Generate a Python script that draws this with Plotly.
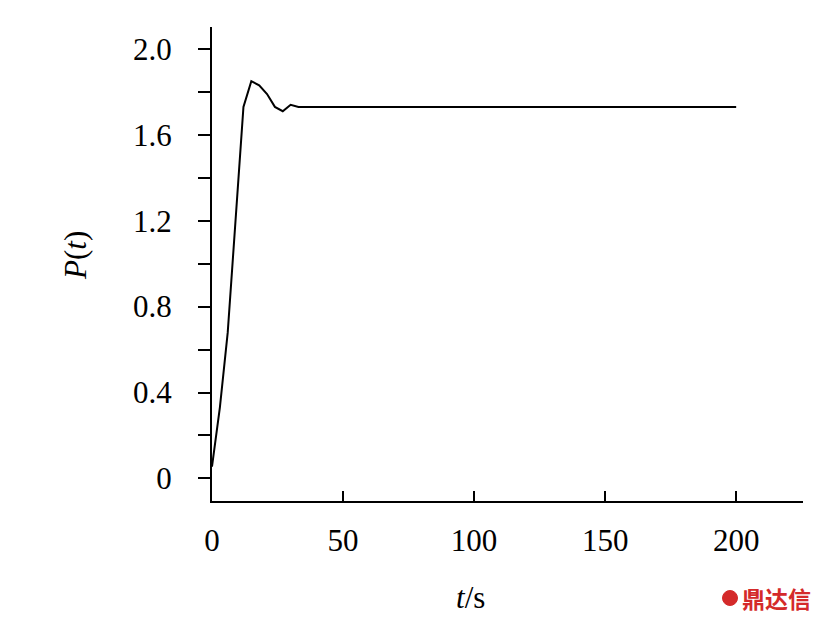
import plotly.graph_objects as go

# Data
t_values = [0, 3, 6, 9, 12, 15, 18, 21, 24, 27, 30, 33, 50, 100, 150, 200]
p_values = [0.055, 0.33, 0.68, 1.20, 1.73, 1.85, 1.83, 1.79, 1.73, 1.71, 1.74, 1.73,
            1.73, 1.73, 1.73, 1.73]

x_tick_vals = [0, 50, 100, 150, 200]
x_tick_text = ["0", "50", "100", "150", "200"]
y_tick_vals = [0, 0.2, 0.4, 0.6, 0.8, 1.0, 1.2, 1.4, 1.6, 1.8, 2.0]
y_tick_text = ["0", "", "0.4", "", "0.8", "", "1.2", "", "1.6", "", "2.0"]

FONT = "Liberation Serif"

fig = go.Figure()
fig.add_trace(go.Scatter(x=t_values, y=p_values, mode="lines",
                         line=dict(color="black", width=2), showlegend=False,
                         hoverinfo="skip"))

W, H = 816, 618
L, R, T, B = 204, 21, 19, 125
pw, ph = W - L - R, H - T - B


def px(fx):
    return (fx - L) / pw


def py(fy):
    return (H - B - fy) / ph


fig.update_layout(
    width=W, height=H,
    paper_bgcolor="white", plot_bgcolor="white",
    margin=dict(l=L, r=R, t=T, b=B),
    font=dict(family=FONT, size=31, color="black"),
    xaxis=dict(
        range=[0, 225.5], showgrid=False, zeroline=False,
        showline=True, linecolor="black", linewidth=2,
        tickvals=x_tick_vals, ticktext=x_tick_text,
        ticks="inside", ticklen=10, tickwidth=2, tickcolor="black",
        ticklabelstandoff=11,
    ),
    yaxis=dict(
        range=[-0.105, 2.102], showgrid=False, zeroline=False,
        showline=True, linecolor="black", linewidth=2,
        tickvals=y_tick_vals, ticktext=y_tick_text,
        ticks="outside", ticklen=12, tickwidth=2, tickcolor="black",
        ticklabelstandoff=20,
    ),
)

# Axis titles
fig.add_annotation(text="<i>t</i>/s", xref="paper", yref="paper",
                   x=px(462), y=py(589), xanchor="center", yanchor="middle",
                   showarrow=False, font=dict(family=FONT, size=31))
fig.add_annotation(text="<i>P</i>(<i>t</i>)", xref="paper", yref="paper",
                   x=px(67), y=py(248), xanchor="center", yanchor="middle",
                   textangle=-90, showarrow=False, font=dict(family=FONT, size=31))

# Watermark
fig.add_shape(type="circle", xref="paper", yref="paper",
              x0=px(714.5), x1=px(729.5), y0=py(597.5), y1=py(582.5),
              fillcolor="#d42a2a", line=dict(color="#d42a2a", width=1))
fig.add_annotation(text="<b>鼎达信</b>", xref="paper", yref="paper",
                   x=px(732), y=py(590), xanchor="left", yanchor="middle",
                   showarrow=False,
                   font=dict(family="Noto Sans CJK SC", size=23, color="#d42a2a"))

fig.write_html("out.html")
